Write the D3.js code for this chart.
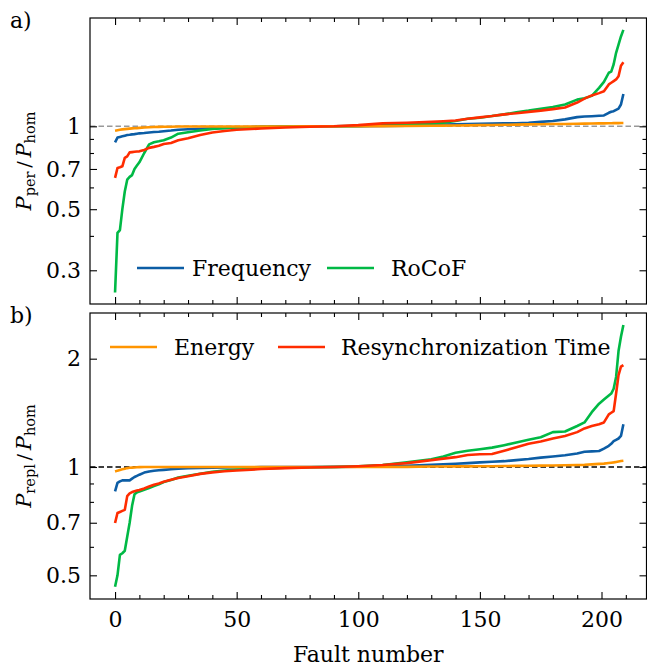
<!DOCTYPE html>
<html lang="en">
    <head>
        <meta charset="utf-8">
        <title>P ratio vs fault number</title>
        <script type="text/javascript" src="https://cdn.jsdelivr.net/npm/d3@7"></script>
        <style type="text/css">
            body { margin: 0; background: #fff; }
            svg text { font-family: "DejaVu Serif", serif; fill: #000; }
        </style>
    </head>
    <body>
        <div class="chart"></div>
        <script type="text/javascript">
            var faultIdx = [0,1,2,3,4,5,6,7,8,9,10,12,14,16,18,20,23,26,30,35,40,45,50,
                            60,70,80,90,100,110,120,130,135,140,145,150,155,160,165,170,175,180,185,190,
                            193,196,199,201,203,204,205,206,207,208,209];

            // panel a) P_per / P_hom
            var perFreq = [0.875,0.91,0.915,0.92,0.925,0.93,0.932,0.935,0.937,0.94,0.943,
                           0.946,0.95,0.953,0.956,0.96,0.965,0.972,0.976,0.98,0.984,0.987,0.99,
                           0.995,0.998,1.0,1.001,1.002,1.004,1.006,1.011,
                           1.014,1.017,1.019,1.021,1.023,1.025,1.026,1.03,1.038,1.045,1.06,1.08,
                           1.085,1.088,1.092,1.095,1.12,1.13,1.135,1.148,1.16,1.2,1.31];
            var perRocof = [0.249,0.41,0.42,0.5,0.58,0.64,0.655,0.665,0.70,0.72,0.74,
                            0.8,0.86,0.875,0.882,0.89,0.91,0.94,0.952,0.966,0.978,0.985,0.99,
                            0.996,0.999,1.0,1.001,1.003,1.008,1.016,1.025,
                            1.03,1.045,1.065,1.075,1.09,1.105,1.125,1.14,1.158,1.175,1.2,1.25,
                            1.265,1.29,1.38,1.45,1.565,1.58,1.68,1.85,1.98,2.12,2.24];
            var perEnergy = [0.964,0.968,0.972,0.975,0.977,0.979,0.981,0.983,0.984,0.985,0.987,
                             0.99,0.992,0.994,0.995,0.996,0.997,0.998,0.998,0.999,0.999,0.999,0.999,
                             0.999,0.999,1.0,1.0,1.0,1.001,1.003,1.005,
                             1.006,1.007,1.008,1.01,1.011,1.013,1.014,1.016,1.017,1.019,1.02,1.022,
                             1.023,1.024,1.025,1.025,1.026,1.026,1.027,1.027,1.027,1.028,1.028];
            var perResync = [0.65,0.706,0.71,0.716,0.768,0.778,0.804,0.806,0.808,0.81,0.811,
                             0.82,0.835,0.842,0.85,0.862,0.87,0.89,0.905,0.93,0.95,0.962,0.972,
                             0.982,0.99,0.996,1.0,1.01,1.025,1.03,1.038,
                             1.043,1.05,1.065,1.078,1.09,1.105,1.115,1.128,1.14,1.155,1.17,1.22,
                             1.26,1.295,1.32,1.34,1.42,1.44,1.46,1.48,1.52,1.66,1.71];

            // panel b) P_repl / P_hom
            var replFreq = [0.855,0.903,0.912,0.918,0.918,0.918,0.918,0.928,0.938,0.945,0.952,
                            0.965,0.972,0.976,0.979,0.982,0.986,0.989,0.992,0.994,0.996,0.997,0.998,
                            0.999,1.0,1.0,1.001,1.002,1.004,1.008,1.014,
                            1.018,1.021,1.025,1.03,1.034,1.038,1.045,1.052,1.062,1.07,1.078,1.09,
                            1.103,1.105,1.108,1.125,1.145,1.16,1.18,1.19,1.2,1.22,1.315];
            var replRocof = [0.465,0.5,0.57,0.576,0.585,0.64,0.7,0.78,0.84,0.85,0.855,
                             0.865,0.874,0.885,0.895,0.908,0.92,0.935,0.945,0.958,0.97,0.978,0.984,
                             0.99,0.995,0.998,1.0,1.004,1.012,1.03,1.05,
                             1.07,1.095,1.11,1.12,1.132,1.15,1.17,1.19,1.21,1.25,1.255,1.3,
                             1.33,1.42,1.5,1.54,1.58,1.6,1.65,1.78,2.1,2.3,2.48];
            var replEnergy = [0.972,0.977,0.981,0.985,0.989,0.993,0.995,0.996,0.997,0.998,0.999,
                              1.0,1.0,1.0,1.0,1.0,1.0,1.0,1.0,1.0,1.0,1.0,1.0,
                              1.0,1.0,1.0,1.0,1.0,1.0,1.001,1.003,
                              1.003,1.004,1.004,1.005,1.005,1.006,1.007,1.008,1.009,1.01,1.011,1.013,
                              1.014,1.017,1.02,1.022,1.026,1.028,1.03,1.033,1.036,1.039,1.041];
            var replResync = [0.699,0.745,0.75,0.755,0.76,0.83,0.845,0.852,0.856,0.86,0.863,
                              0.872,0.883,0.893,0.9,0.91,0.922,0.932,0.942,0.957,0.966,0.973,0.978,
                              0.987,0.993,0.997,1.0,1.005,1.013,1.025,1.045,
                              1.055,1.065,1.08,1.085,1.087,1.11,1.135,1.16,1.177,1.2,1.22,1.25,
                              1.28,1.3,1.315,1.33,1.4,1.415,1.43,1.6,1.8,1.9,1.92];

            var xMajor = [0, 50, 100, 150, 200];
            var xMinor = [10, 20, 30, 40, 60, 70, 80, 90, 110, 120, 130, 140, 160, 170, 180, 190, 210];
            var perMajor = [0.3, 0.5, 0.7, 1];
            var perMinor = [0.4, 0.6, 0.8, 0.9];
            var replMajor = [0.5, 0.7, 1, 2];
            var replMinor = [0.6, 0.8, 0.9];

            var colors = {freq: "#0C5DA5", rocof: "#00B945", energy: "#FF9500", resync: "#FF2C00"};

            var w = 647;
            var h = 669;
            var fs = 22;
            var svg = d3.select("div.chart")
                        .append("svg")
                        .attr("width", w)
                        .attr("height", h);

            var xScale = d3.scaleLinear()
                           .domain([-10.3, 218.5])
                           .range([90, 646.5]);

            var panels = [
                {top: 18, bottom: 304, domain: [0.2263, 2.474], major: perMajor, minor: perMinor,
                 series: [[perFreq, "freq"], [perRocof, "rocof"], [perEnergy, "energy"], [perResync, "resync"]],
                 dash: "#999999", tag: "a)", sub: "per", xLabels: false},
                {top: 313, bottom: 599, domain: [0.4297, 2.679], major: replMajor, minor: replMinor,
                 series: [[replFreq, "freq"], [replRocof, "rocof"], [replEnergy, "energy"], [replResync, "resync"]],
                 dash: "#000000", tag: "b)", sub: "repl", xLabels: true}
            ];

            var x0 = xScale.range()[0], x1 = xScale.range()[1];

            panels.forEach(function(p){
                var yScale = d3.scaleLog()
                               .domain(p.domain)
                               .range([p.bottom, p.top]);
                var g = svg.append("g");

                // reference line at 1
                g.append("line")
                 .attr("x1", x0).attr("x2", x1)
                 .attr("y1", yScale(1)).attr("y2", yScale(1))
                 .attr("stroke", p.dash)
                 .attr("stroke-width", 1.5)
                 .attr("stroke-dasharray", "5.5,3");

                var line = d3.line()
                             .x(function(d, i){return xScale(faultIdx[i]);})
                             .y(function(d){return yScale(d);});
                p.series.forEach(function(s){
                    g.append("path")
                     .datum(s[0])
                     .attr("d", line)
                     .attr("fill", "none")
                     .attr("stroke", colors[s[1]])
                     .attr("stroke-width", 2.6)
                     .attr("stroke-linejoin", "round");
                });

                // ticks pointing inwards on all four sides
                function axes(vals, len, labels){
                    var l = g.append("g").attr("transform", "translate(" + x0 + ",0)")
                             .call(d3.axisLeft(yScale).tickValues(vals).tickSizeInner(-len).tickSizeOuter(0)
                                   .tickPadding(9).tickFormat(labels ? d3.format("") : ""));
                    var r = g.append("g").attr("transform", "translate(" + x1 + ",0)")
                             .call(d3.axisRight(yScale).tickValues(vals).tickSizeInner(-len).tickSizeOuter(0).tickFormat(""));
                    [l, r].forEach(function(a){ a.select(".domain").remove(); });
                }
                axes(p.major, 7, true);
                axes(p.minor, 4, false);

                function xaxes(vals, len, labels){
                    var b = g.append("g").attr("transform", "translate(0," + p.bottom + ")")
                             .call(d3.axisBottom(xScale).tickValues(vals).tickSizeInner(-len).tickSizeOuter(0)
                                   .tickPadding(12).tickFormat(labels ? d3.format("d") : ""));
                    var t = g.append("g").attr("transform", "translate(0," + p.top + ")")
                             .call(d3.axisTop(xScale).tickValues(vals).tickSizeInner(-len).tickSizeOuter(0).tickFormat(""));
                    [b, t].forEach(function(a){ a.select(".domain").remove(); });
                }
                xaxes(xMajor, 7, p.xLabels);
                xaxes(xMinor, 4, false);

                g.selectAll(".tick line").attr("stroke", "#000").attr("stroke-width", 1.1);
                g.selectAll(".tick text")
                 .attr("font-family", "DejaVu Serif")
                 .attr("font-size", fs);

                g.append("rect")
                 .attr("x", x0).attr("y", p.top)
                 .attr("width", x1 - x0).attr("height", p.bottom - p.top)
                 .attr("fill", "none")
                 .attr("stroke", "#000")
                 .attr("stroke-width", 1.2);

                // panel tag
                svg.append("text")
                   .attr("x", 10).attr("y", p.top + 10)
                   .attr("font-size", fs)
                   .text(p.tag);

                // y label  P_sub / P_hom
                var yl = svg.append("text")
                            .attr("transform", "translate(31," + ((p.top + p.bottom) / 2) + ") rotate(-90)")
                            .attr("text-anchor", "middle")
                            .attr("font-size", 21);
                yl.append("tspan").attr("font-style", "italic").text("P");
                yl.append("tspan").attr("font-size", 14.5).attr("dy", 4).text(p.sub);
                yl.append("tspan").attr("dy", -4).attr("font-size", 19).text("\u2009/\u2009");
                yl.append("tspan").attr("font-style", "italic").text("P");
                yl.append("tspan").attr("font-size", 14.5).attr("dy", 4).text("hom");
            });

            // legends, split over both panels
            var legend = [
                {name: "Frequency", key: "freq", x: 137, tx: 192, y: 268},
                {name: "RoCoF", key: "rocof", x: 327, tx: 391, y: 268},
                {name: "Energy", key: "energy", x: 110, tx: 174, y: 347},
                {name: "Resynchronization Time", key: "resync", x: 278, tx: 341, y: 347}
            ];
            legend.forEach(function(d){
                svg.append("line")
                   .attr("x1", d.x).attr("x2", d.x + 47)
                   .attr("y1", d.y).attr("y2", d.y)
                   .attr("stroke", colors[d.key])
                   .attr("stroke-width", 2.6);
                svg.append("text")
                   .attr("x", d.tx).attr("y", d.y + 8)
                   .attr("font-size", fs)
                   .text(d.name);
            });

            svg.append("text")
               .attr("x", (x0 + x1) / 2).attr("y", 662)
               .attr("text-anchor", "middle")
               .attr("font-size", fs)
               .text("Fault number");
        </script>
    </body>
</html>
